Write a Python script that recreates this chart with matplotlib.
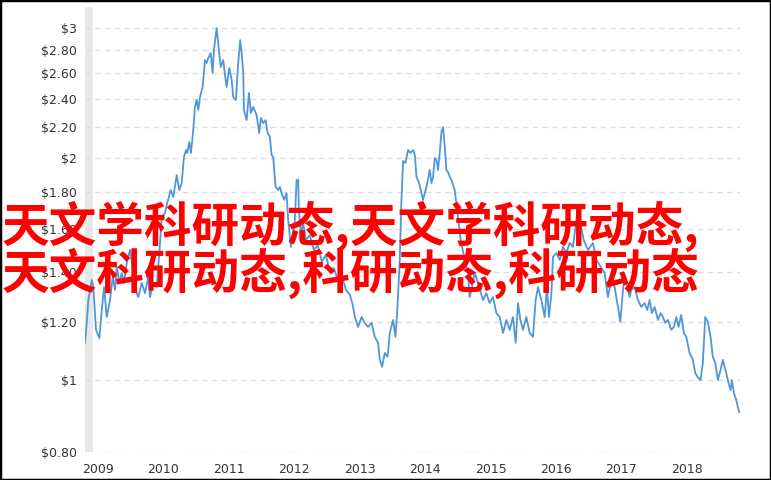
import matplotlib
matplotlib.use("Agg")

import matplotlib.pyplot as plt
import matplotlib.ticker as mtick
from matplotlib.patches import Rectangle

# price history, decimal years vs dollars
years = [
    2008.801, 2008.827, 2008.852, 2008.904, 2008.928, 2008.969, 2009.020, 2009.057,
    2009.092, 2009.133, 2009.183, 2009.224, 2009.260, 2009.286, 2009.325, 2009.362,
    2009.397, 2009.438, 2009.489, 2009.534, 2009.591, 2009.615, 2009.667, 2009.718,
    2009.768, 2009.794, 2009.844, 2009.896, 2009.947, 2009.973, 2010.023, 2010.058,
    2010.110, 2010.150, 2010.202, 2010.241, 2010.278, 2010.313, 2010.344, 2010.364,
    2010.394, 2010.420, 2010.455, 2010.481, 2010.507, 2010.532, 2010.558, 2010.599,
    2010.634, 2010.660, 2010.684, 2010.721, 2010.751, 2010.771, 2010.813, 2010.837,
    2010.874, 2010.913, 2010.944, 2010.965, 2011.005, 2011.042, 2011.066, 2011.107,
    2011.142, 2011.173, 2011.194, 2011.219, 2011.229, 2011.271, 2011.306, 2011.336,
    2011.371, 2011.423, 2011.463, 2011.489, 2011.524, 2011.561, 2011.591, 2011.626,
    2011.652, 2011.677, 2011.713, 2011.753, 2011.779, 2011.805, 2011.845, 2011.881,
    2011.906, 2011.947, 2011.982, 2012.008, 2012.034, 2012.059, 2012.069, 2012.100,
    2012.135, 2012.176, 2012.237, 2012.298, 2012.359, 2012.420, 2012.482, 2012.543,
    2012.604, 2012.665, 2012.726, 2012.787, 2012.848, 2012.894, 2012.924, 2012.975,
    2013.027, 2013.077, 2013.127, 2013.179, 2013.230, 2013.280, 2013.306, 2013.341,
    2013.382, 2013.424, 2013.459, 2013.509, 2013.546, 2013.576, 2013.611, 2013.637,
    2013.662, 2013.699, 2013.738, 2013.775, 2013.815, 2013.841, 2013.867, 2013.906,
    2013.943, 2013.967, 2014.019, 2014.070, 2014.096, 2014.120, 2014.146, 2014.172,
    2014.196, 2014.222, 2014.248, 2014.273, 2014.299, 2014.324, 2014.349, 2014.375,
    2014.401, 2014.451, 2014.497, 2014.543, 2014.589, 2014.619, 2014.654, 2014.680,
    2014.706, 2014.756, 2014.817, 2014.883, 2014.935, 2014.985, 2015.036, 2015.088,
    2015.139, 2015.189, 2015.241, 2015.291, 2015.341, 2015.383, 2015.418, 2015.455,
    2015.494, 2015.546, 2015.597, 2015.647, 2015.688, 2015.724, 2015.776, 2015.826,
    2015.861, 2015.892, 2015.929, 2015.953, 2016.005, 2016.056, 2016.106, 2016.158,
    2016.208, 2016.259, 2016.311, 2016.335, 2016.376, 2016.422, 2016.488, 2016.540,
    2016.564, 2016.616, 2016.666, 2016.742, 2016.793, 2016.845, 2016.895, 2016.946,
    2016.982, 2017.022, 2017.048, 2017.074, 2017.124, 2017.150, 2017.200, 2017.251,
    2017.303, 2017.353, 2017.394, 2017.430, 2017.465, 2017.506, 2017.557, 2017.598,
    2017.633, 2017.669, 2017.709, 2017.761, 2017.801, 2017.837, 2017.872, 2017.913,
    2017.953, 2017.990, 2018.040, 2018.091, 2018.127, 2018.167, 2018.208, 2018.243,
    2018.280, 2018.320, 2018.361, 2018.396, 2018.433, 2018.473, 2018.514, 2018.549,
    2018.601, 2018.636, 2018.667, 2018.687, 2018.717, 2018.754, 2018.797,
]
prices = [
    1.124, 1.196, 1.284, 1.367, 1.338, 1.170, 1.141, 1.245,
    1.337, 1.218, 1.284, 1.380, 1.325, 1.423, 1.354, 1.397,
    1.354, 1.441, 1.501, 1.410, 1.312, 1.296, 1.354, 1.312,
    1.380, 1.296, 1.354, 1.337, 1.534, 1.664, 1.684, 1.738,
    1.809, 1.770, 1.895, 1.809, 1.848, 2.005, 2.049, 2.030,
    2.101, 2.030, 2.180, 2.343, 2.394, 2.321, 2.416, 2.493,
    2.711, 2.686, 2.728, 2.771, 2.604, 2.797, 2.995, 2.859,
    2.653, 2.711, 2.572, 2.493, 2.645, 2.548, 2.416, 2.394,
    2.686, 2.885, 2.771, 2.612, 2.321, 2.249, 2.447, 2.299,
    2.343, 2.285, 2.160, 2.263, 2.228, 2.249, 2.160, 2.134,
    2.017, 2.005, 1.826, 1.809, 1.826, 1.792, 1.754, 1.792,
    1.648, 1.515, 1.582, 1.648, 1.866, 1.866, 1.700, 1.582,
    1.632, 1.548, 1.572, 1.501, 1.524, 1.446, 1.478, 1.401,
    1.419, 1.367, 1.388, 1.325, 1.305, 1.264, 1.218, 1.181,
    1.218, 1.196, 1.181, 1.196, 1.145, 1.124, 1.066, 1.043,
    1.089, 1.076, 1.159, 1.207, 1.145, 1.257, 1.455, 1.754,
    1.980, 1.968, 2.049, 2.030, 2.049, 2.017, 1.884, 1.848,
    1.792, 1.754, 1.826, 1.925, 1.848, 1.884, 1.998, 1.986,
    1.925, 2.030, 2.167, 2.201, 2.069, 1.925, 1.913, 1.884,
    1.866, 1.809, 1.674, 1.548, 1.478, 1.432, 1.397, 1.296,
    1.325, 1.397, 1.346, 1.284, 1.312, 1.272, 1.296, 1.233,
    1.218, 1.159, 1.207, 1.170, 1.218, 1.124, 1.272, 1.207,
    1.170, 1.218, 1.159, 1.145, 1.284, 1.337, 1.284, 1.218,
    1.337, 1.218, 1.312, 1.469, 1.487, 1.455, 1.515, 1.487,
    1.534, 1.515, 1.648, 1.716, 1.622, 1.548, 1.501, 1.524,
    1.534, 1.455, 1.432, 1.397, 1.296, 1.367, 1.337, 1.257,
    1.200, 1.325, 1.380, 1.354, 1.296, 1.325, 1.337, 1.284,
    1.257, 1.272, 1.245, 1.284, 1.233, 1.257, 1.207, 1.233,
    1.218, 1.196, 1.207, 1.170, 1.181, 1.218, 1.181, 1.226,
    1.159, 1.145, 1.089, 1.066, 1.023, 1.010, 1.001, 1.056,
    1.218, 1.200, 1.145, 1.076, 1.056, 1.001, 1.033, 1.066,
    1.023, 0.992, 0.970, 1.001, 0.961, 0.941, 0.906,
]

y_ticks = [0.8, 1.0, 1.2, 1.4, 1.6, 1.8, 2.0, 2.2, 2.4, 2.6, 2.8, 3.0]
y_labels = ["$0.80", "$1", "$1.20", "$1.40", "$1.60", "$1.80",
            "$2", "$2.20", "$2.40", "$2.60", "$2.80", "$3"]
x_ticks = list(range(2009, 2019))
band = (2008.80, 2008.92)  # grey shaded period at the start

overlay_lines = ["天文学科研动态,天文学科研动态,", "天文科研动态,科研动态,科研动态"]

fig = plt.figure(figsize=(7.71, 4.80), dpi=100)
ax = fig.add_axes([0.1102, 0.0583, 0.8495, 0.9271])

ax.set_yscale("log")
ax.set_ylim(0.8, 3.198)
ax.set_xlim(2008.80, 2018.81)

ax.yaxis.set_major_locator(mtick.FixedLocator(y_ticks))
ax.yaxis.set_major_formatter(mtick.FixedFormatter(y_labels))
ax.yaxis.set_minor_locator(mtick.NullLocator())
ax.set_xticks(x_ticks)
ax.set_xticklabels([str(y) for y in x_ticks])

for s in ax.spines.values():
    s.set_visible(False)
ax.tick_params(length=0, labelsize=9, colors="#333333")
ax.tick_params(axis="y", pad=6)
ax.tick_params(axis="x", pad=8)

ax.grid(axis="y", color="#dedede", linestyle=(0, (4, 3)), linewidth=1.0, zorder=0)
ax.axvspan(band[0], band[1], color="#e8e8e8", zorder=1, linewidth=0)

ax.plot(years, prices, color="#5096d9", linewidth=1.3, zorder=3)

# red overlay caption
for txt, yb in zip(overlay_lines, [0.4969, 0.3985]):
    fig.text(0.002, yb, txt, color="#ff0000", fontsize=34.3, fontweight="bold",
             family=["Noto Sans CJK SC", "DejaVu Sans"], va="baseline", ha="left",
             zorder=10)

# black frame round the picture
fig.patches.append(Rectangle((0, 0), 1, 1, transform=fig.transFigure, fill=False,
                             edgecolor="black", linewidth=2.5))

fig.savefig("out.png", dpi=100)
